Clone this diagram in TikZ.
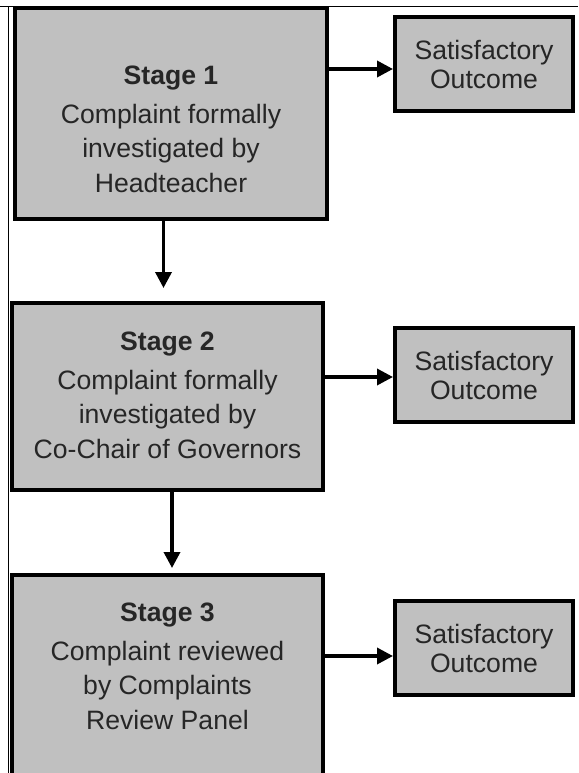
\documentclass[tikz,border=0pt]{standalone}
\usepackage{fontspec}
\setmainfont{Liberation Sans}
\usetikzlibrary{arrows.meta, positioning}
\definecolor{boxgray}{RGB}{192,192,192}
\definecolor{textgray}{RGB}{38,38,38}

\begin{document}
\begin{tikzpicture}[x=1pt, y=-1pt, >={Triangle[length=16pt, width=16pt]},
  font=\fontsize{26.6}{34.5}\selectfont,
  stagebox/.style={rectangle, draw, line width=4pt, fill=boxgray, text=textgray, align=center, minimum width=311pt, inner sep=0pt},
  outbox/.style={rectangle, draw, line width=4pt, fill=boxgray, text=textgray, align=center, minimum width=178pt, minimum height=94pt, inner sep=0pt, font=\fontsize{26.6}{29}\selectfont},
  flow/.style={->, line width=3.5pt}]

\useasboundingbox (0,0) rectangle (578,773);
\clip (0,0) rectangle (578,773);

% cell frame
\draw[line width=1.5pt] (0,6.5) -- (578,6.5);
\draw[line width=1.5pt] (8.5,6.5) -- (8.5,773);

\node[stagebox, minimum width=312pt, minimum height=211pt] (s1) at (171,113.5) {\rule{0pt}{50pt}\textbf{Stage 1}\\[4.5pt]Complaint formally\\investigated by\\Headteacher};
\node[stagebox, minimum height=187pt] (s2) at (167.5,396.5) {\textbf{Stage 2}\\[4.5pt]Complaint formally\\investigated by\\Co-Chair of Governors\rule[-3pt]{0pt}{3pt}};
\node[stagebox, minimum height=230pt] (s3) at (167.5,690) {\textbf{Stage 3}\\[4.5pt]Complaint reviewed\\by Complaints\\Review Panel\rule[-48pt]{0pt}{48pt}};

\node[outbox] (o1) at (484,64) {Satisfactory\\Outcome};
\node[outbox] (o2) at (484,375) {Satisfactory\\Outcome};
\node[outbox] (o3) at (484,648) {Satisfactory\\Outcome};

\coordinate (h1) at ([yshift=-5pt]o1.west);
\coordinate (h2) at ([yshift=-2pt]o2.west);
\coordinate (h3) at ([yshift=-8pt]o3.west);
\draw[flow] (h1 -| s1.east) -- (h1);
\draw[flow] (h2 -| s2.east) -- (h2);
\draw[flow] (h3 -| s3.east) -- (h3);

\coordinate (v1) at ([xshift=-4pt, yshift=13pt]s2.north);
\coordinate (v2) at ([xshift=4.5pt, yshift=5pt]s3.north);
\draw[flow] (v1 |- s1.south) -- (v1);
\draw[flow] (v2 |- s2.south) -- (v2);

\end{tikzpicture}
\end{document}
